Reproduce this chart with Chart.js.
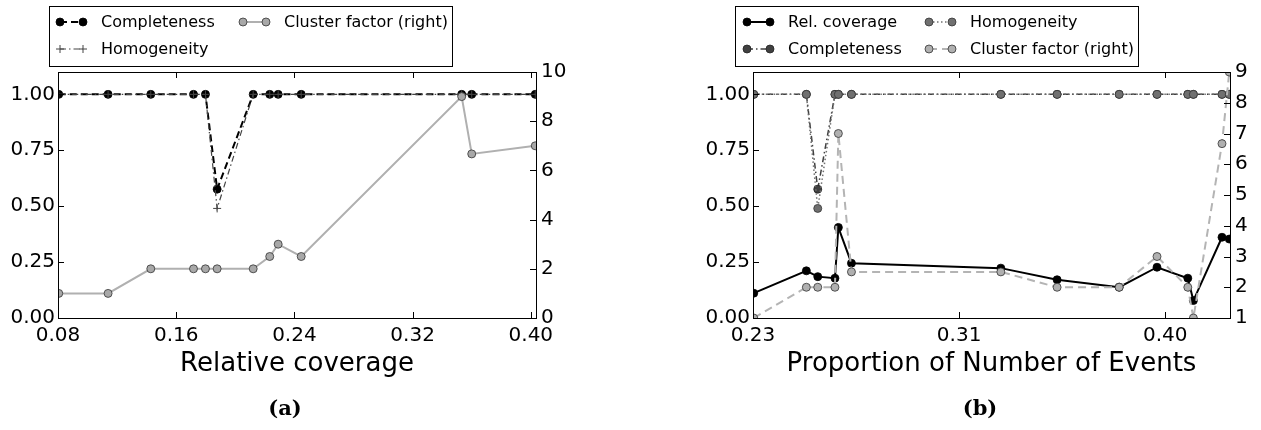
<!DOCTYPE html>
<html>
<head>
<meta charset="utf-8">
<script src="https://cdn.jsdelivr.net/npm/chart.js@4.4.1/dist/chart.umd.min.js"></script>
<style>
  body { margin: 0; background: #fff; width: 1261px; height: 430px; position: relative; overflow: hidden; }
  .panel { position: absolute; top: 0; }
  .panel canvas { display: block; }
  .caption { position: absolute; top: 396px; font: bold 21px "DejaVu Serif"; line-height: 24px; color: #000; transform: translateX(-50%); }
</style>
</head>
<body>
<div class="panel" style="left:0px"><canvas id="chartA" width="620" height="400"></canvas></div>
<div class="panel" style="left:690px"><canvas id="chartB" width="571" height="400"></canvas></div>
<div class="caption" style="left:285px">(a)</div>
<div class="caption" style="left:980px">(b)</div>
<script>
// (a) sweep over relative coverage
const coverageA = [0.0805, 0.1139, 0.1428, 0.1717, 0.1798, 0.1877, 0.2121, 0.2233, 0.229, 0.2446, 0.3532, 0.36, 0.403];
const completenessA = [1, 1, 1, 1, 1, 0.576, 1, 1, 1, 1, 1, 1, 1];
const homogeneityA = [1, 1, 1, 1, 1, 0.49, 1, 1, 1, 1, 1, 1, 1];
const clusterA = [1, 1, 2, 2, 2, 2, 2, 2.5, 3, 2.5, 9, 6.67, 7];

// (b) sweep over proportion of number of events
const eventsB = [0.2303, 0.252, 0.2567, 0.2638, 0.2652, 0.2706, 0.3322, 0.3554, 0.381, 0.3966, 0.4093, 0.4116, 0.4234, 0.4264];
const relCoverageB = [0.111, 0.211, 0.185, 0.178, 0.405, 0.245, 0.223, 0.171, 0.138, 0.227, 0.178, 0.078, 0.361, 0.353];
const completenessB = [1, 1, 0.576, 1, 1, 1, 1, 1, 1, 1, 1, 1, 1, 1];
const homogeneityB = [1, 1, 0.49, 1, 1, 1, 1, 1, 1, 1, 1, 1, 1, 1];
const clusterB = [1, 2, 2, 2, 7, 2.5, 2.5, 2, 2, 3, 2, 1, 6.67, 9];

// ticks
const xTicksA = [0.08, 0.16, 0.24, 0.32, 0.40];
const xTickLabelsA = ["0.08", "0.16", "0.24", "0.32", "0.40"];
const xTicksB = [0.23, 0.315, 0.40];
const xTickLabelsB = ["0.23", "0.31", "0.40"];
const leftTicks = [0, 0.25, 0.5, 0.75, 1.0];
const leftTickLabels = ["0.00", "0.25", "0.50", "0.75", "1.00"];
const rightTicksA = [0, 2, 4, 6, 8, 10];
const rightTicksB = [1, 2, 3, 4, 5, 6, 7, 8, 9];

Chart.defaults.font.family = '"DejaVu Sans"';
Chart.defaults.color = "#000";

const pts = (xs, ys) => xs.map((x, i) => ({ x: x, y: ys[i] }));

// inward tick marks on all four sides plus the axes frame
const frameTicks = {
  id: "frameTicks",
  afterDatasetsDraw(chart) {
    const { ctx, chartArea: a, scales } = chart;
    const L = 6;
    const snap = (v) => Math.round(v) + 0.5;
    ctx.save();
    ctx.strokeStyle = "#000";
    ctx.lineWidth = 1;
    ctx.beginPath();
    scales.x.ticks.forEach((t) => {
      const px = snap(scales.x.getPixelForValue(t.value));
      ctx.moveTo(px, a.bottom); ctx.lineTo(px, a.bottom - L);
      ctx.moveTo(px, a.top); ctx.lineTo(px, a.top + L);
    });
    scales.y.ticks.forEach((t) => {
      const py = snap(scales.y.getPixelForValue(t.value));
      ctx.moveTo(a.left, py); ctx.lineTo(a.left + L, py);
    });
    scales.y1.ticks.forEach((t) => {
      const py = snap(scales.y1.getPixelForValue(t.value));
      ctx.moveTo(a.right, py); ctx.lineTo(a.right - L, py);
    });
    ctx.stroke();
    ctx.strokeRect(snap(a.left), snap(a.top), Math.round(a.right - a.left), Math.round(a.bottom - a.top));
    ctx.restore();
  },
};

function drawMarker(ctx, ds, x, y) {
  ctx.save();
  ctx.fillStyle = ds.pointBackgroundColor;
  ctx.strokeStyle = ds.pointBorderColor;
  ctx.lineWidth = ds.pointBorderWidth;
  ctx.beginPath();
  if (ds.pointStyle === "cross") {
    const r = ds.pointRadius;
    ctx.moveTo(x - r, y); ctx.lineTo(x + r, y);
    ctx.moveTo(x, y - r); ctx.lineTo(x, y + r);
  } else {
    ctx.arc(x, y, ds.pointRadius, 0, Math.PI * 2);
    ctx.fill();
  }
  ctx.stroke();
  ctx.restore();
}

// boxed two-column legend above the axes
const boxLegend = {
  id: "boxLegend",
  afterDraw(chart, args, opts) {
    const ctx = chart.ctx;
    const b = opts.box;
    ctx.save();
    ctx.fillStyle = "#fff";
    ctx.fillRect(b.x, b.y, b.w, b.h);
    ctx.strokeStyle = "#000";
    ctx.lineWidth = 1;
    ctx.strokeRect(b.x + 0.5, b.y + 0.5, b.w, b.h);
    opts.items.forEach((it) => {
      const ds = chart.data.datasets[it.ds];
      ctx.save();
      ctx.strokeStyle = ds.borderColor;
      ctx.lineWidth = ds.borderWidth;
      ctx.setLineDash(ds.borderDash || []);
      ctx.beginPath();
      ctx.moveTo(it.x, it.y);
      ctx.lineTo(it.x + 23, it.y);
      ctx.stroke();
      ctx.restore();
      drawMarker(ctx, ds, it.x, it.y);
      drawMarker(ctx, ds, it.x + 23, it.y);
      ctx.fillStyle = "#000";
      ctx.font = '16px "DejaVu Sans"';
      ctx.textBaseline = "middle";
      ctx.fillText(ds.label, it.x + 41, it.y + 1);
    });
    ctx.restore();
  },
};

function xScale(min, max, ticks, labels, title) {
  return {
    type: "linear",
    min: min,
    max: max,
    afterBuildTicks: (s) => { s.ticks = ticks.map((v) => ({ value: v })); },
    afterFit: (s) => { s.height = 82; },
    grid: { display: false, drawTicks: false },
    border: { display: false },
    ticks: { font: { size: 20 }, padding: 6, maxRotation: 0, autoSkip: false, callback: (v, i) => labels[i] },
    title: { display: true, text: title, font: { size: 26 }, padding: { top: 0, bottom: 20 } },
  };
}

function leftScale(width) {
  return {
    type: "linear",
    position: "left",
    min: 0,
    max: 1.1,
    afterBuildTicks: (s) => { s.ticks = leftTicks.map((v) => ({ value: v })); },
    afterFit: (s) => { s.width = width; },
    grid: { display: false, drawTicks: false },
    border: { display: false },
    ticks: { font: { size: 20 }, padding: 3, autoSkip: false, callback: (v, i) => leftTickLabels[i] },
  };
}

function rightScale(min, max, ticks, width) {
  return {
    type: "linear",
    position: "right",
    min: min,
    max: max,
    afterBuildTicks: (s) => { s.ticks = ticks.map((v) => ({ value: v })); },
    afterFit: (s) => { s.width = width; },
    grid: { display: false, drawTicks: false },
    border: { display: false },
    ticks: { font: { size: 20 }, padding: 5, autoSkip: false, callback: (v) => String(v) },
  };
}

const chartA = new Chart(document.getElementById("chartA").getContext("2d"), {
  type: "line",
  data: {
    datasets: [
      {
        label: "Completeness",
        data: pts(coverageA, completenessA),
        borderColor: "#000",
        borderWidth: 2,
        borderDash: [7, 4],
        pointStyle: "circle",
        pointRadius: 4,
        pointBackgroundColor: "#000",
        pointBorderColor: "#000",
        pointBorderWidth: 0.8,
        yAxisID: "y",
        order: 3,
        clip: 0,
      },
      {
        label: "Homogeneity",
        data: pts(coverageA, homogeneityA),
        borderColor: "#444",
        borderWidth: 1.2,
        borderDash: [6, 3, 1.5, 3],
        pointStyle: "cross",
        pointRadius: 4,
        pointBackgroundColor: "#444",
        pointBorderColor: "#444",
        pointBorderWidth: 1,
        yAxisID: "y",
        order: 2,
        clip: 0,
      },
      {
        label: "Cluster factor (right)",
        data: pts(coverageA, clusterA),
        borderColor: "#b0b0b0",
        borderWidth: 2,
        pointStyle: "circle",
        pointRadius: 4,
        pointBackgroundColor: "#a8a8a8",
        pointBorderColor: "#333",
        pointBorderWidth: 0.8,
        yAxisID: "y1",
        order: 1,
        clip: 0,
      },
    ],
  },
  options: {
    responsive: false,
    animation: false,
    layout: { padding: { top: 72, left: 0, right: 0, bottom: 0 } },
    scales: {
      x: xScale(0.08, 0.4035, xTicksA, xTickLabelsA, "Relative coverage"),
      y: leftScale(58),
      y1: rightScale(0, 10, rightTicksA, 84),
    },
    plugins: {
      legend: { display: false },
      tooltip: { enabled: false },
      boxLegend: {
        box: { x: 49, y: 6, w: 403, h: 60 },
        items: [
          { ds: 0, x: 60, y: 22 },
          { ds: 1, x: 60, y: 49 },
          { ds: 2, x: 243, y: 22 },
        ],
      },
    },
  },
  plugins: [frameTicks, boxLegend],
});

const chartB = new Chart(document.getElementById("chartB").getContext("2d"), {
  type: "line",
  data: {
    datasets: [
      {
        label: "Rel. coverage",
        data: pts(eventsB, relCoverageB),
        borderColor: "#000",
        borderWidth: 2,
        pointStyle: "circle",
        pointRadius: 4,
        pointBackgroundColor: "#000",
        pointBorderColor: "#000",
        pointBorderWidth: 0.8,
        yAxisID: "y",
        order: 4,
        clip: 0,
      },
      {
        label: "Completeness",
        data: pts(eventsB, completenessB),
        borderColor: "#404040",
        borderWidth: 1.5,
        borderDash: [6, 3, 1.5, 3],
        pointStyle: "circle",
        pointRadius: 4,
        pointBackgroundColor: "#404040",
        pointBorderColor: "#222",
        pointBorderWidth: 0.8,
        yAxisID: "y",
        order: 3,
        clip: 0,
      },
      {
        label: "Homogeneity",
        data: pts(eventsB, homogeneityB),
        borderColor: "#707070",
        borderWidth: 1.5,
        borderDash: [1.5, 2.5],
        pointStyle: "circle",
        pointRadius: 4,
        pointBackgroundColor: "#707070",
        pointBorderColor: "#333",
        pointBorderWidth: 0.8,
        yAxisID: "y",
        order: 2,
        clip: 0,
      },
      {
        label: "Cluster factor (right)",
        data: pts(eventsB, clusterB),
        borderColor: "#b4b4b4",
        borderWidth: 2,
        borderDash: [8, 5],
        pointStyle: "circle",
        pointRadius: 4,
        pointBackgroundColor: "#b0b0b0",
        pointBorderColor: "#333",
        pointBorderWidth: 0.8,
        yAxisID: "y1",
        order: 1,
        clip: 0,
      },
    ],
  },
  options: {
    responsive: false,
    animation: false,
    layout: { padding: { top: 72, left: 0, right: 0, bottom: 0 } },
    scales: {
      x: xScale(0.23, 0.4267, xTicksB, xTickLabelsB, "Proportion of Number of Events"),
      y: leftScale(63),
      y1: rightScale(1, 9, rightTicksB, 31),
    },
    plugins: {
      legend: { display: false },
      tooltip: { enabled: false },
      boxLegend: {
        box: { x: 45, y: 6, w: 403, h: 60 },
        items: [
          { ds: 0, x: 57, y: 22 },
          { ds: 1, x: 57, y: 49 },
          { ds: 2, x: 239, y: 22 },
          { ds: 3, x: 239, y: 49 },
        ],
      },
    },
  },
  plugins: [frameTicks, boxLegend],
});
</script>
</body>
</html>
